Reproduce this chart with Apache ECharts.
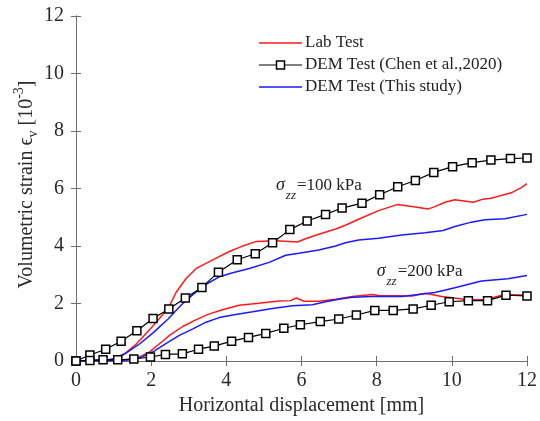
<!DOCTYPE html>
<html><head><meta charset="utf-8">
<script src="https://cdn.jsdelivr.net/npm/echarts@6/dist/echarts.min.js"></script>
<style>html,body{margin:0;padding:0;background:#fff}#c{width:540px;height:421px}</style>
</head><body><div id="c"></div>
<script>
// ---- data ----
const axisTicks = [0, 2, 4, 6, 8, 10, 12];

const labX100 = [0, 0.5, 1.0, 1.2, 1.6, 2.0, 2.3, 2.5, 2.67, 2.93, 3.2, 3.64, 4.08, 4.4, 4.8, 5.32, 5.89, 6.11, 6.46, 6.91, 7.17, 7.52, 8.05, 8.54, 8.94, 9.38, 9.55, 9.82, 10.08, 10.57, 10.83, 11.05, 11.32, 11.58, 11.85, 12.0];
const labY100 = [0, 0.02, 0.06, 0.15, 0.58, 1.15, 1.6, 1.95, 2.4, 2.87, 3.22, 3.52, 3.81, 3.98, 4.16, 4.18, 4.14, 4.25, 4.41, 4.59, 4.72, 4.93, 5.23, 5.44, 5.37, 5.29, 5.37, 5.52, 5.61, 5.52, 5.63, 5.66, 5.76, 5.85, 6.03, 6.17];

const labX200 = [0, 1.17, 1.61, 1.96, 2.23, 2.49, 2.84, 3.2, 3.55, 3.9, 4.34, 4.87, 5.4, 5.71, 5.86, 6.07, 6.46, 6.91, 7.35, 7.88, 8.05, 8.94, 9.29, 9.73, 10.44, 10.88, 11.41, 12.0];
const labY200 = [0, 0.03, 0.09, 0.32, 0.61, 0.89, 1.2, 1.44, 1.64, 1.78, 1.94, 2.01, 2.09, 2.1, 2.19, 2.08, 2.08, 2.15, 2.24, 2.31, 2.28, 2.26, 2.36, 2.24, 2.13, 2.13, 2.31, 2.29];

const chenX100 = [0, 0.37, 0.79, 1.2, 1.62, 2.05, 2.47, 2.91, 3.35, 3.79, 4.29, 4.77, 5.23, 5.69, 6.15, 6.64, 7.08, 7.61, 8.08, 8.56, 9.03, 9.52, 10.02, 10.54, 11.04, 11.56, 12.0];
const chenY100 = [0, 0.21, 0.41, 0.69, 1.05, 1.48, 1.81, 2.19, 2.56, 3.09, 3.52, 3.73, 4.11, 4.57, 4.87, 5.10, 5.32, 5.49, 5.78, 6.06, 6.28, 6.56, 6.76, 6.90, 6.99, 7.04, 7.06];

const chenX200 = [0, 0.37, 0.72, 1.11, 1.54, 1.98, 2.38, 2.83, 3.26, 3.68, 4.14, 4.59, 5.05, 5.53, 5.97, 6.50, 6.99, 7.46, 7.95, 8.44, 8.97, 9.45, 9.93, 10.44, 10.95, 11.44, 12.0];
const chenY200 = [0, 0.02, 0.04, 0.04, 0.07, 0.14, 0.23, 0.25, 0.41, 0.52, 0.69, 0.82, 0.96, 1.14, 1.26, 1.37, 1.46, 1.60, 1.76, 1.76, 1.81, 1.94, 2.06, 2.10, 2.10, 2.29, 2.26];

const thisX100 = [0, 0.9, 1.3, 1.7, 2.05, 2.45, 2.8, 3.1, 3.45, 3.8, 4.17, 4.61, 5.14, 5.58, 5.93, 6.46, 6.91, 7.17, 7.52, 8.05, 8.67, 9.29, 9.77, 10.08, 10.52, 10.88, 11.41, 12.0];
const thisY100 = [0, 0.04, 0.25, 0.6, 0.98, 1.46, 1.95, 2.3, 2.66, 2.92, 3.07, 3.22, 3.43, 3.68, 3.75, 3.86, 4.0, 4.11, 4.21, 4.27, 4.38, 4.46, 4.54, 4.68, 4.83, 4.91, 4.95, 5.10];

const thisX200 = [0, 1.34, 1.7, 2.05, 2.4, 2.75, 3.11, 3.46, 3.81, 4.17, 4.7, 5.23, 5.76, 6.29, 6.64, 6.99, 7.35, 7.88, 8.67, 9.55, 10.08, 10.79, 11.49, 12.0];
const thisY200 = [0, 0.03, 0.11, 0.32, 0.61, 0.89, 1.12, 1.35, 1.51, 1.6, 1.71, 1.83, 1.92, 1.96, 2.06, 2.15, 2.22, 2.24, 2.24, 2.38, 2.55, 2.78, 2.86, 2.97];

const seriesNames = ['Lab Test', 'DEM Test (Chen et al.,2020)', 'DEM Test (This study)'];
const annotations = [
  { at: [5.32, 5.8], text: '=100 kPa' },
  { at: [8.0, 2.8], text: '=200 kPa' }
];

// ---- chart ----
const FONT = '"Liberation Serif", "Times New Roman", serif';
const AX = '#6e6e6e';
const RED = '#ff1a1a', BLUE = '#1a1aff';
const zip = (xs, ys) => xs.map((x, i) => [x, ys[i]]);
const chart = echarts.init(document.getElementById('c'), null, { renderer: 'canvas' });

const plainLine = (name, color, xs, ys) => ({
  name, type: 'line', data: zip(xs, ys), symbol: 'none', showSymbol: false,
  lineStyle: { color, width: 1.5 }, itemStyle: { color }, z: 2
});
const markLine = (name, xs, ys) => ({
  name, type: 'line', data: zip(xs, ys), symbol: 'rect', symbolSize: 8,
  lineStyle: { color: '#000', width: 1.2 },
  itemStyle: { color: '#fff', borderColor: '#000', borderWidth: 1.5 }, z: 3
});

const tickOpts = { show: true, inside: true, length: 5, lineStyle: { color: AX } };
const min = axisTicks[0], max = axisTicks[axisTicks.length - 1], step = axisTicks[1] - axisTicks[0];

chart.setOption({
  animation: false,
  backgroundColor: '#fff',
  textStyle: { fontFamily: FONT },
  grid: { left: 76, right: 10, top: 16, bottom: 55, containLabel: false },
  xAxis: [{
    type: 'value', min, max, interval: step, position: 'bottom',
    axisLine: { show: true, lineStyle: { color: AX, width: 1 } },
    axisTick: tickOpts, splitLine: { show: false },
    axisLabel: { fontFamily: FONT, fontSize: 20, color: '#2a2a2a', margin: 10 },
    name: 'Horizontal displacement [mm]', nameLocation: 'middle', nameGap: 35,
    nameTextStyle: { fontFamily: FONT, fontSize: 20, color: '#2a2a2a' }
  }, {
    type: 'value', min, max, interval: step, position: 'top',
    axisLine: { show: true, lineStyle: { color: AX, width: 1 } },
    axisTick: tickOpts, axisLabel: { show: false }, splitLine: { show: false }
  }],
  yAxis: [{
    type: 'value', min, max, interval: step, position: 'left',
    axisLine: { show: true, lineStyle: { color: AX, width: 1 } },
    axisTick: tickOpts, splitLine: { show: false },
    axisLabel: { fontFamily: FONT, fontSize: 20, color: '#2a2a2a', margin: 12 }
  }, {
    type: 'value', min, max, interval: step, position: 'right',
    axisLine: { show: true, lineStyle: { color: AX, width: 1 } },
    axisTick: tickOpts, axisLabel: { show: false }, splitLine: { show: false }
  }],
  series: [
    plainLine(seriesNames[0], RED, labX100, labY100),
    plainLine(seriesNames[0], RED, labX200, labY200),
    plainLine(seriesNames[2], BLUE, thisX100, thisY100),
    plainLine(seriesNames[2], BLUE, thisX200, thisY200),
    markLine(seriesNames[1], chenX100, chenY100),
    markLine(seriesNames[1], chenX200, chenY200)
  ]
});

// text measuring helper
const ctx = document.createElement('canvas').getContext('2d');
function tw(text, size, style) {
  ctx.font = (style || '') + ' ' + size + 'px ' + FONT;
  return ctx.measureText(text).width;
}

const graphics = [];
// legend (drawn manually: line + optional square marker + label)
const legendItems = [
  { name: seriesNames[0], color: RED, marker: false },
  { name: seriesNames[1], color: '#000', marker: true },
  { name: seriesNames[2], color: BLUE, marker: false }
];
legendItems.forEach((it, i) => {
  const y = 43 + i * 22;
  graphics.push({ type: 'line', z: 20, shape: { x1: 259, y1: y, x2: 302, y2: y }, style: { stroke: it.color, lineWidth: it.marker ? 1.2 : 1.5 } });
  if (it.marker) {
    graphics.push({ type: 'rect', z: 21, shape: { x: 276.5, y: y - 4, width: 8, height: 8 }, style: { fill: '#fff', stroke: '#000', lineWidth: 1.5 } });
  }
  graphics.push({ type: 'text', z: 20, x: 305, y: y, style: { text: it.name, font: '17px ' + FONT, fill: '#222', verticalAlign: 'middle' } });
});

// annotations
annotations.forEach(a => {
  const p = chart.convertToPixel({ xAxisIndex: 0, yAxisIndex: 0 }, a.at);
  const x0 = p[0], yb = p[1];
  const wS = tw('σ', 18, 'italic');
  const wZ = tw('zz', 13, 'italic');
  graphics.push({ type: 'text', x: x0, y: yb, z: 10, style: { text: 'σ', font: 'italic 18px ' + FONT, fill: '#222', verticalAlign: 'bottom' } });
  graphics.push({ type: 'text', x: x0 + wS + 1, y: yb + 8, z: 10, style: { text: 'zz', font: 'italic 13px ' + FONT, fill: '#222', verticalAlign: 'bottom' } });
  graphics.push({ type: 'text', x: x0 + wS + wZ + 2, y: yb, z: 10, style: { text: a.text, font: '17px ' + FONT, fill: '#222', verticalAlign: 'bottom' } });
});

// y axis title (rotated, with sub/superscripts)
const parts = [
  { t: 'Volumetric strain ', s: 20, dy: 0 },
  { t: 'ϵ', s: 20, dy: 0 },
  { t: 'v', s: 14, dy: 6 },
  { t: ' [10', s: 20, dy: 0 },
  { t: '-3', s: 14, dy: -8 },
  { t: ']', s: 20, dy: 0 }
];
let total = 0;
parts.forEach(pt => { pt.w = tw(pt.t, pt.s); total += pt.w; });
let cx = -total / 2;
const children = [];
parts.forEach(pt => {
  children.push({ type: 'text', x: cx, y: pt.dy, style: { text: pt.t, font: pt.s + 'px ' + FONT, fill: '#2a2a2a', verticalAlign: 'middle' } });
  cx += pt.w;
});
const gTop = chart.convertToPixel({ yAxisIndex: 0 }, max);
const gBot = chart.convertToPixel({ yAxisIndex: 0 }, min);
graphics.push({ type: 'group', x: 27, y: (gTop + gBot) / 2 - 4, rotation: Math.PI / 2, children });

chart.setOption({ graphic: graphics });
</script>
</body></html>
